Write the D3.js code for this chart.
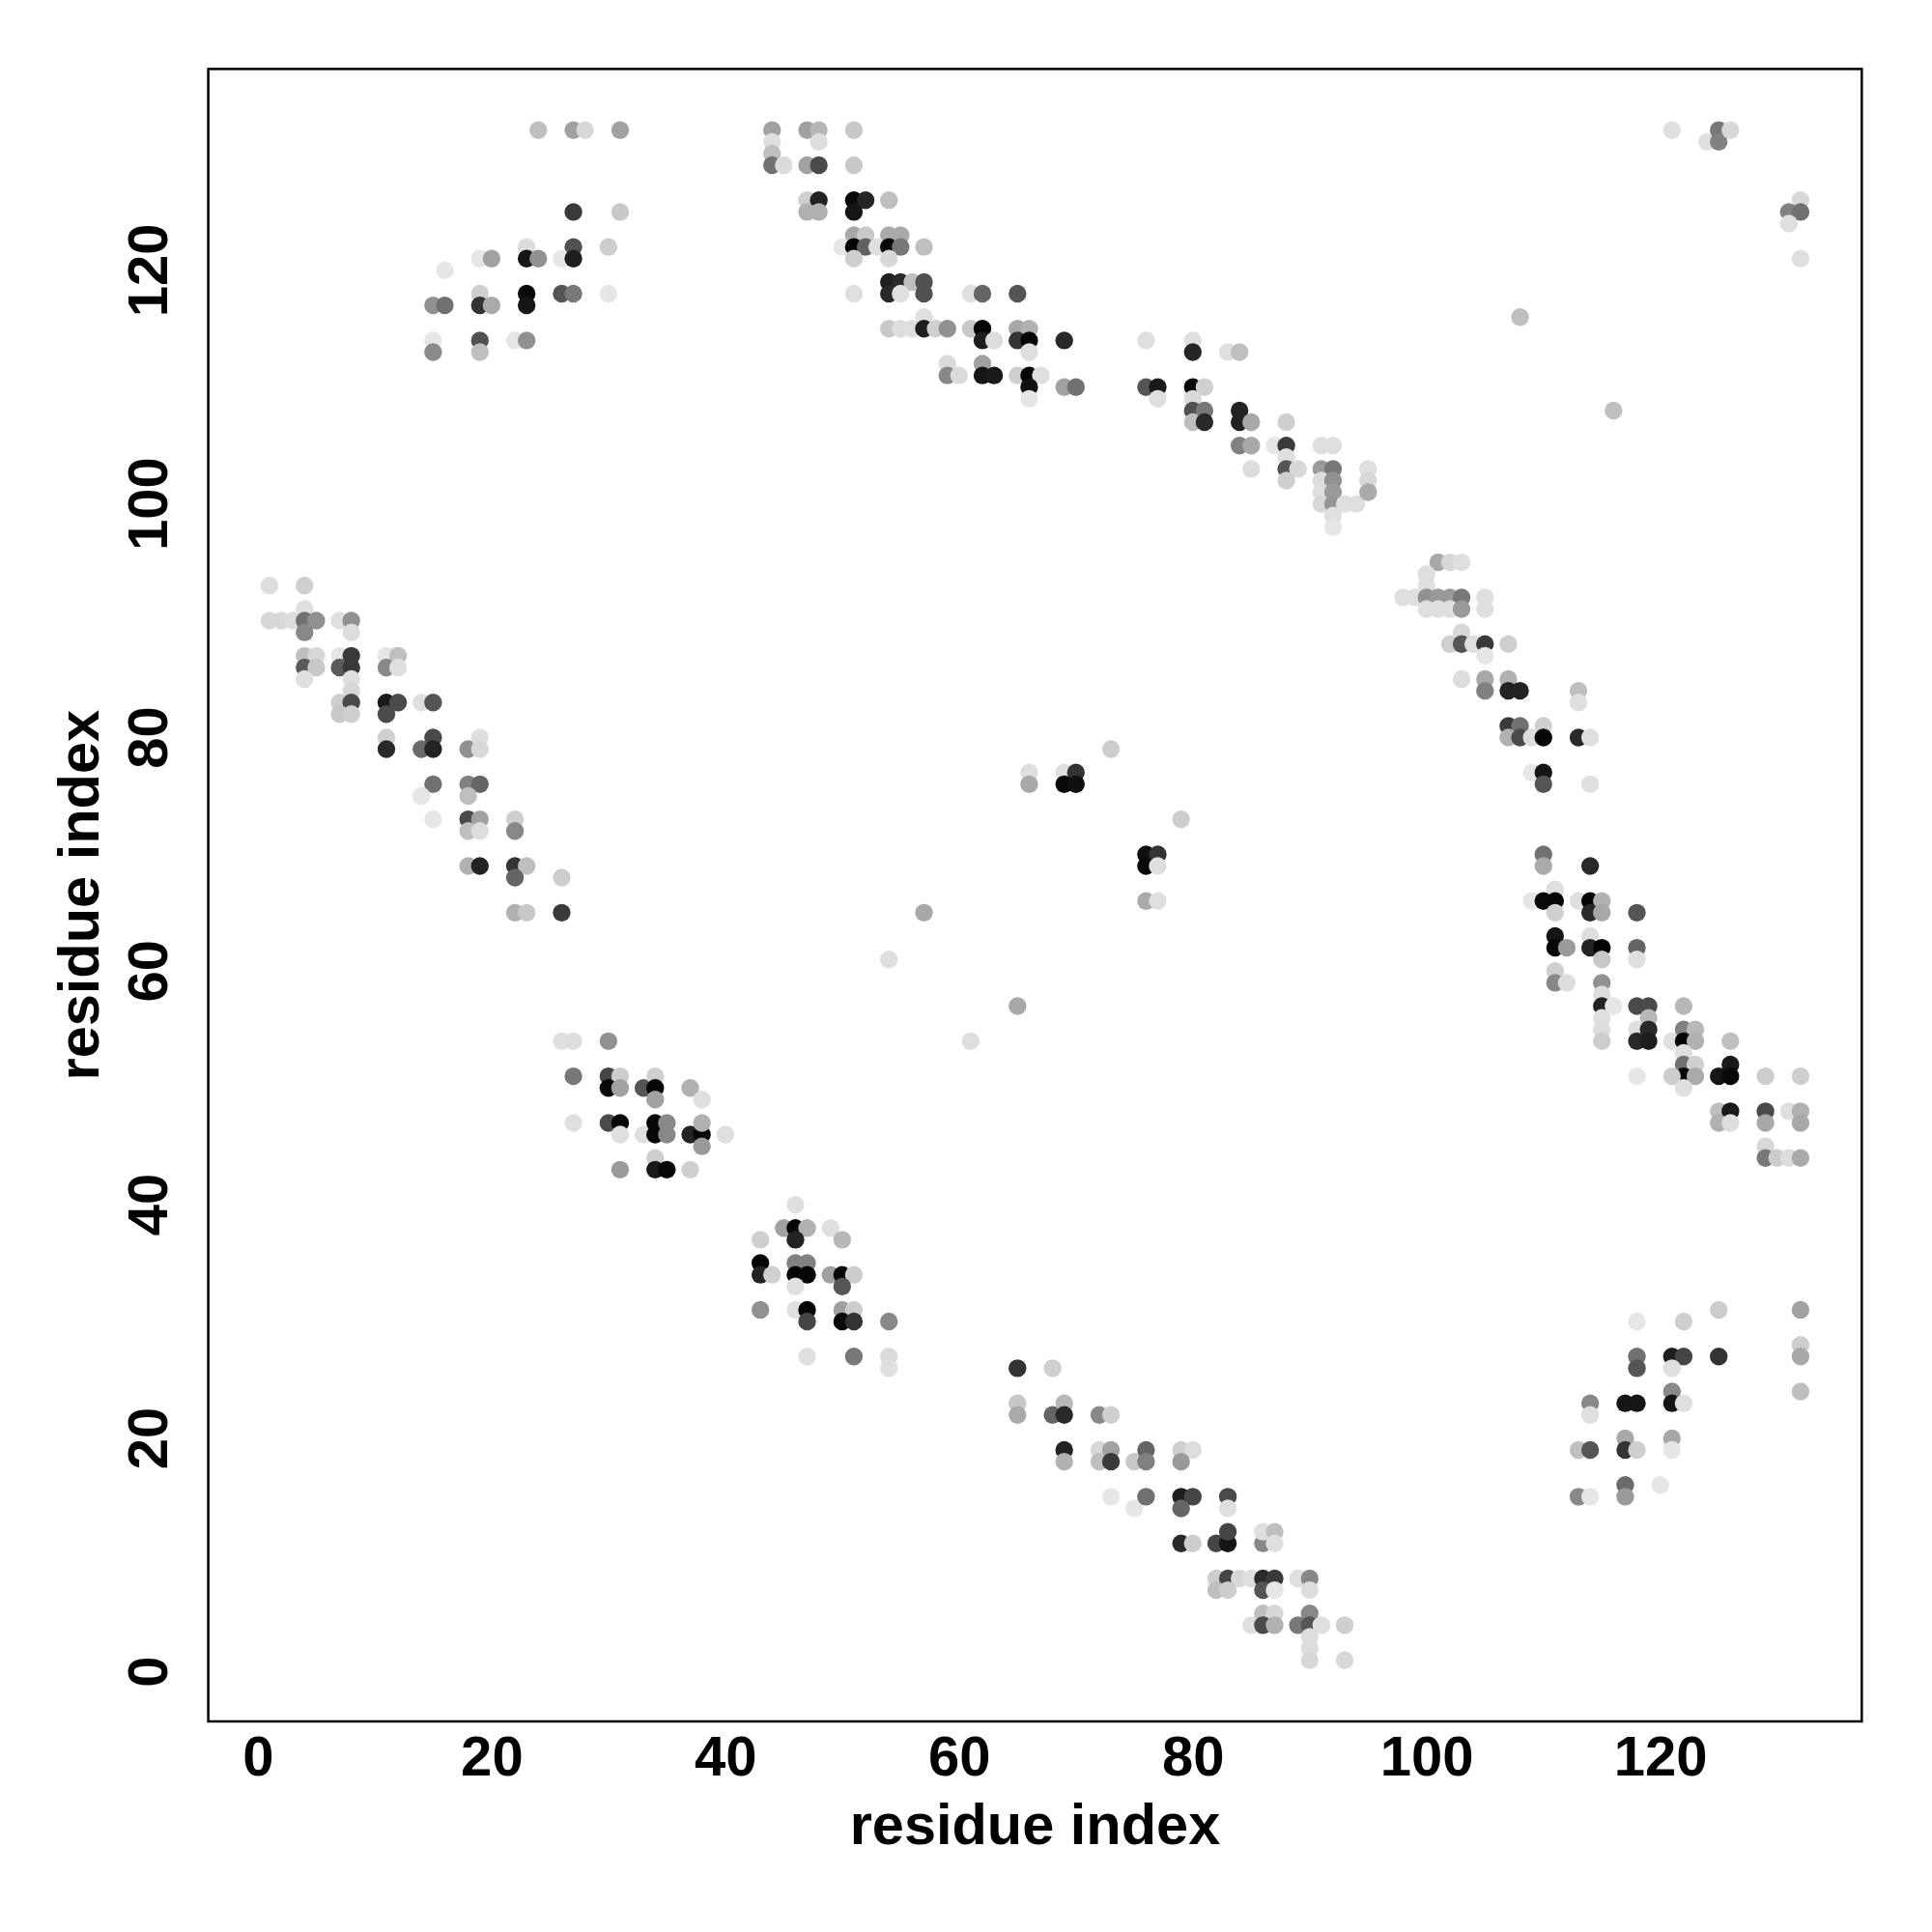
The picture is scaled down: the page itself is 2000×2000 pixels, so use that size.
<!DOCTYPE html>
<html>
<head>
<meta charset="utf-8">
<script src="https://cdn.jsdelivr.net/npm/d3@7"></script>
<style>
  html, body { margin: 0; padding: 0; background: #ffffff; }
  svg { display: block; }
</style>
</head>
<body>
<svg id="chart" width="2000" height="2000"></svg>
<script>
// ---- data: [residue i, residue j, contact score 0..1] ----
const clusterUpperLeft = [
  [24,132,0.17],[27,132,0.30],[28,132,0.06],[31,132,0.30],
  [27,125,0.75],[31,125,0.13],
  [23,122,0.04],[27,122,0.65],[30,122,0.11],
  [19,121,0.00],[20,121,0.30],[23,121,0.91],[24,121,0.37],[26,121,0.00],[27,121,0.87],
  [16,120,0.00],
  [19,118,0.10],[23,118,0.96],[26,118,0.63],[27,118,0.48],[30,118,0.00],
  [15,117,0.37],[16,117,0.51],[19,117,0.78],[20,117,0.26],[23,117,0.91],
  [15,114,0.00],[19,114,0.65],[22,114,0.00],[23,114,0.37],
  [15,113,0.40],[19,113,0.17]
];
const clusterTopBand = [
  [44,132,0.30],[44,131,0.03],[44,130,0.17],[44,129,0.51],[45,129,0.05],
  [47,132,0.30],[48,132,0.21],[48,131,0.04],[47,129,0.30],[48,129,0.68],
  [51,132,0.13],[51,129,0.13],
  [47,126,0.10],[48,126,0.85],[47,125,0.23],[48,125,0.23],
  [51,126,0.96],[52,126,0.84],[51,125,0.91],[54,126,0.17],
  [51,123,0.27],[52,123,0.13],[54,123,0.26],[55,123,0.26],
  [50,122,0.00],[51,122,0.98],[52,122,0.58],[53,122,0.03],[54,122,0.96],[55,122,0.48],[57,122,0.17],
  [51,121,0.10],[54,121,0.06],[51,118,0.03],
  [54,119,0.87],[55,119,0.82],[56,119,0.17],[57,119,0.65],
  [54,118,0.82],[55,118,0.03],[57,118,0.65],
  [61,118,0.03],[62,118,0.56],[65,118,0.63],
  [57,116,0.03],
  [54,115,0.13],[55,115,0.04],[56,115,0.03],[57,115,0.87],[58,115,0.10],[59,115,0.37],[61,115,0.13],[62,115,0.98],[65,115,0.27],[66,115,0.23],
  [62,114,0.87],[63,114,0.04],[65,114,0.78],[66,114,0.97],[69,114,0.82],
  [66,113,0.03],
  [59,112,0.05],[62,112,0.30],
  [59,111,0.41],[60,111,0.05],[62,111,0.91],[63,111,0.89],[65,111,0.10],[66,111,0.98],[67,111,0.03],
  [66,110,0.93],[66,109,0.00],[69,110,0.30],[70,110,0.51]
];
const clusterTopBand2 = [
  [76,114,0.03],[80,114,0.03],[80,113,0.84],[83,113,0.03],[84,113,0.17],
  [76,110,0.63],[77,110,0.89],[77,109,0.03],[80,110,0.97],[81,110,0.10],[80,109,0.05],
  [80,108,0.65],[81,108,0.48],[80,107,0.17],[81,107,0.82],
  [84,108,0.85],[84,107,0.85],[85,107,0.27],[88,107,0.10],
  [84,105,0.44],[85,105,0.27],[87,105,0.00],[88,105,0.75],[91,105,0.03],[92,105,0.03],
  [85,103,0.04],[88,104,0.03],[88,103,0.63],[89,103,0.06],[88,102,0.10],
  [91,103,0.33],[92,103,0.48],[91,102,0.04],[92,102,0.37],
  [91,101,0.03],[92,101,0.33],[91,100,0.06],[92,100,0.35],[93,100,0.03],[94,100,0.03],
  [92,99,0.03],[92,98,0.00],
  [95,103,0.03],[95,102,0.06],[95,101,0.26]
];
const clusterLeftBand = [
  [1,93,0.04],[4,93,0.10],[4,91,0.03],
  [1,90,0.06],[2,90,0.06],[3,90,0.04],[4,90,0.51],[5,90,0.37],[4,89,0.41],
  [7,90,0.03],[8,90,0.37],[8,89,0.04],
  [4,87,0.17],[5,87,0.06],[4,86,0.61],[5,86,0.13],[4,85,0.03],
  [7,87,0.00],[8,87,0.75],[7,86,0.61],[8,86,0.75],[8,85,0.03],[8,84,0.06],
  [7,83,0.10],[8,83,0.68],[7,82,0.13],[8,82,0.10],
  [11,87,0.00],[12,87,0.17],[11,86,0.41],[12,86,0.03],
  [11,83,0.89],[12,83,0.68],[11,82,0.68],
  [14,83,0.03],[15,83,0.63],
  [11,80,0.10],[11,79,0.82],[14,79,0.54],[15,80,0.68],[15,79,0.85],
  [18,79,0.37],[19,80,0.03],[19,79,0.06],
  [15,76,0.51],[14,75,0.00],[18,76,0.44],[19,76,0.56],[18,75,0.17],
  [15,73,0.00],[18,73,0.68],[19,73,0.30],[18,72,0.17],[19,72,0.04],
  [22,73,0.10],[22,72,0.41],
  [18,69,0.23],[19,69,0.85],[22,69,0.78],[23,69,0.17],[22,68,0.56],
  [22,65,0.23],[23,65,0.13],[26,68,0.11],[26,65,0.75]
];
const clusterLeftLow = [
  [26,54,0.03],[27,54,0.04],[30,54,0.37],
  [27,51,0.48],[30,51,0.70],[31,51,0.11],
  [30,50,0.96],[31,50,0.30],[33,50,0.63],[34,51,0.10],[34,50,0.97],[34,49,0.30],
  [37,50,0.23],[38,49,0.03],
  [27,47,0.03],[30,47,0.68],[31,47,0.97],[31,46,0.03],[33,46,0.03],
  [34,47,0.97],[34,46,0.97],[35,47,0.41],[35,46,0.41],
  [37,46,0.85],[38,46,0.97],[38,47,0.23],[38,45,0.33],[40,46,0.03],
  [31,43,0.33],[34,44,0.10],[34,43,0.89],[35,43,0.97],[37,43,0.10]
];
const clusterMidLow = [
  [46,40,0.03],[45,38,0.30],[46,38,0.97],[47,38,0.23],[46,37,0.85],
  [49,38,0.03],[50,37,0.20],[43,37,0.10],
  [43,35,0.97],[43,34,0.85],[44,34,0.10],
  [46,35,0.44],[47,35,0.44],[46,34,0.97],[47,34,0.97],[46,33,0.03],
  [49,34,0.30],[50,34,0.97],[51,34,0.11],[50,33,0.63],
  [43,31,0.37],[46,31,0.03],[47,31,0.97],[47,30,0.70],
  [50,31,0.30],[51,31,0.11],[50,30,0.97],[51,30,0.78],[54,30,0.41],
  [47,27,0.03],[51,27,0.48],[54,27,0.05],[54,26,0.03]
];
const clusterBottomBand = [
  [65,26,0.78],[68,26,0.10],
  [65,23,0.13],[65,22,0.26],[68,22,0.56],[69,23,0.20],[69,22,0.82],[72,22,0.41],[73,22,0.10],
  [69,19,0.85],[69,18,0.23],[72,19,0.06],[73,19,0.30],[72,18,0.17],[73,18,0.75],[75,18,0.13],
  [76,19,0.56],[76,18,0.44],[79,19,0.10],[80,19,0.04],[79,18,0.33],
  [73,15,0.00],[75,14,0.00],[76,15,0.51],[79,15,0.87],[80,15,0.70],[79,14,0.56],
  [83,15,0.68],[83,14,0.03],
  [79,11,0.82],[80,11,0.11],[82,11,0.70],[83,11,0.91],[83,12,0.70],
  [86,11,0.41],[86,12,0.03],[87,12,0.17],[87,11,0.03],
  [82,8,0.11],[83,8,0.70],[84,8,0.06],[85,8,0.03],[86,8,0.82],[87,8,0.75],
  [82,7,0.17],[83,7,0.11],[86,7,0.63],[87,7,0.00],
  [89,8,0.03],[90,8,0.41],[90,7,0.04],
  [86,5,0.17],[87,5,0.06],[85,4,0.03],[86,4,0.68],[87,4,0.23],[89,4,0.48],
  [90,5,0.41],[90,4,0.63],[91,4,0.03],[93,4,0.10],
  [90,3,0.04],[90,2,0.04],[90,1,0.06],[93,1,0.06]
];
const clusterRightUpper = [
  [101,95,0.27],[102,95,0.06],[103,95,0.03],[100,94,0.03],[100,93,0.03],
  [98,92,0.03],[99,92,0.03],[100,92,0.37],[101,92,0.33],[102,92,0.33],[103,92,0.48],
  [100,91,0.03],[101,91,0.03],[102,91,0.03],[103,91,0.33],
  [105,92,0.03],[105,91,0.03],
  [103,89,0.06],[102,88,0.10],[103,88,0.63],[104,88,0.03],[105,88,0.75],[105,87,0.00],[107,88,0.10],
  [103,85,0.04],[105,85,0.27],[105,84,0.44],[107,85,0.23],[107,84,0.85],[108,84,0.85],
  [113,84,0.17],[113,83,0.03],
  [107,81,0.75],[108,81,0.51],[110,81,0.10],
  [107,80,0.23],[108,80,0.68],[109,80,0.04],[110,80,0.97],[113,80,0.82],[114,80,0.03],
  [109,77,0.00],[110,77,0.91],[110,76,0.63],[114,76,0.03]
];
const clusterRightLower = [
  [110,70,0.51],[110,69,0.26],[114,69,0.82],[111,67,0.03],
  [109,66,0.00],[110,66,0.96],[111,66,0.97],[111,65,0.10],[113,66,0.03],[114,66,0.98],[115,66,0.23],[114,65,0.82],[115,65,0.27],[118,65,0.63],
  [111,63,0.91],[111,62,0.97],[112,62,0.33],[114,63,0.04],[114,62,0.85],[115,62,0.98],[115,61,0.13],[118,62,0.56],[118,61,0.03],
  [111,60,0.10],[111,59,0.41],[112,59,0.04],[115,59,0.37],[115,58,0.04],
  [115,57,0.85],[116,57,0.00],[115,56,0.03],[115,55,0.04],[115,54,0.11],
  [118,57,0.68],[119,57,0.68],[119,56,0.20],[118,55,0.03],[119,55,0.82],[118,54,0.82],[119,54,0.87],
  [121,54,0.03],[122,57,0.20],[122,55,0.44],[123,55,0.20],[122,54,0.98],[123,54,0.23],
  [122,53,0.03],[122,52,0.51],[123,52,0.10],[122,51,0.97],[123,51,0.26],[121,51,0.11],[122,50,0.03],
  [126,52,0.89],[125,51,0.91],[126,51,0.96],[118,51,0.00],[126,54,0.17],
  [129,51,0.11],[132,51,0.11],
  [125,48,0.17],[126,48,0.89],[125,47,0.23],[126,47,0.04],
  [129,48,0.68],[129,47,0.27],[131,48,0.03],[132,48,0.23],[132,47,0.27],
  [129,45,0.06],[129,44,0.48],[130,44,0.11],[131,44,0.04],[132,44,0.26]
];
const clusterBottomRight = [
  [118,30,0.00],[122,30,0.10],[125,31,0.11],[132,31,0.30],[132,28,0.11],[132,27,0.27],[132,24,0.17],
  [118,27,0.51],[118,26,0.63],[121,27,0.87],[122,27,0.70],[121,26,0.03],[125,27,0.78],
  [114,23,0.41],[114,22,0.03],[117,23,0.91],[118,23,0.91],[121,24,0.41],[121,23,0.91],[122,23,0.03],
  [113,19,0.17],[114,19,0.63],[117,20,0.27],[117,19,0.78],[118,19,0.10],[121,20,0.27],[121,19,0.00],
  [117,16,0.54],[117,15,0.33],[120,16,0.00],[113,15,0.41],[114,15,0.00]
];
const clusterTopRight = [
  [121,132,0.03],[124,131,0.03],[125,132,0.48],[125,131,0.44],[126,132,0.06],
  [132,126,0.06],[131,125,0.44],[132,125,0.51],[131,124,0.03],[132,121,0.03],
  [108,116,0.17],[116,108,0.17]
];
const clusterMiddle = [
  [73,79,0.11],[66,77,0.03],[66,76,0.27],[69,77,0.03],[70,77,0.78],[69,76,0.96],[70,76,0.93],
  [79,73,0.11],[76,70,0.93],[77,70,0.78],[76,69,0.96],[77,69,0.03],[76,66,0.26],[77,66,0.03],
  [57,65,0.27],[54,61,0.03],[65,57,0.27],[61,54,0.03]
];

const tickValues = [0, 20, 40, 60, 80, 100, 120];
const xLabel = "residue index";
const yLabel = "residue index";

// ---- layout ----
const W = 2000, H = 2000;
const plot = { left: 215.6, right: 1927.3, top: 71.4, bottom: 1782 };
const dataMin = 1, dataMax = 132;
const pad = (dataMax - dataMin) * 0.04;

const x = d3.scaleLinear().domain([dataMin - pad, dataMax + pad]).range([plot.left, plot.right]);
const y = d3.scaleLinear().domain([dataMin - pad, dataMax + pad]).range([plot.bottom, plot.top]);
const color = d3.scaleLinear().domain([0, 1]).range(["#e6e6e6", "#000000"]);

const FONT = "'Liberation Sans', Arial, Helvetica, sans-serif";
const FS = 58;
const FS_TITLE = 59.5;

const svg = d3.select("#chart");
svg.append("rect").attr("width", W).attr("height", H).attr("fill", "#ffffff");

const points = [].concat(
  clusterUpperLeft, clusterTopBand, clusterTopBand2, clusterLeftBand, clusterLeftLow,
  clusterMidLow, clusterBottomBand, clusterRightUpper, clusterRightLower,
  clusterBottomRight, clusterTopRight, clusterMiddle
);

svg.append("g")
  .selectAll("circle")
  .data(points)
  .join("circle")
  .attr("cx", d => x(d[0]))
  .attr("cy", d => y(d[1]))
  .attr("r", 9.2)
  .attr("fill", d => color(d[2]));

// box
svg.append("rect")
  .attr("x", plot.left).attr("y", plot.top)
  .attr("width", plot.right - plot.left).attr("height", plot.bottom - plot.top)
  .attr("fill", "none").attr("stroke", "#000").attr("stroke-width", 2.5);

// x axis
const xAxis = svg.append("g")
  .attr("transform", `translate(0,${plot.bottom})`)
  .call(d3.axisBottom(x).tickValues(tickValues).tickSize(0).tickPadding(15));
xAxis.select(".domain").remove();
xAxis.selectAll("text")
  .attr("font-family", FONT).attr("font-weight", "bold").attr("font-size", FS).attr("fill", "#000");

// y axis (labels rotated as in R)
const yAxis = svg.append("g")
  .attr("transform", `translate(${plot.left},0)`)
  .call(d3.axisLeft(y).tickValues(tickValues).tickSize(0));
yAxis.select(".domain").remove();
yAxis.selectAll("text")
  .attr("x", null).attr("dy", null)
  .attr("text-anchor", "middle")
  .attr("transform", d => `translate(${173 - plot.left},${y(d)}) rotate(-90)`)
  .attr("y", 0)
  .attr("font-family", FONT).attr("font-weight", "bold").attr("font-size", FS).attr("fill", "#000");
yAxis.selectAll(".tick").attr("transform", null);

// axis titles
svg.append("text")
  .attr("x", (plot.left + plot.right) / 2).attr("y", 1909)
  .attr("text-anchor", "middle")
  .attr("font-family", FONT).attr("font-weight", "bold").attr("font-size", FS_TITLE)
  .text(xLabel);
svg.append("text")
  .attr("transform", `translate(102,${(plot.top + plot.bottom) / 2}) rotate(-90)`)
  .attr("text-anchor", "middle")
  .attr("font-family", FONT).attr("font-weight", "bold").attr("font-size", FS_TITLE)
  .text(yLabel);
</script>
</body>
</html>
